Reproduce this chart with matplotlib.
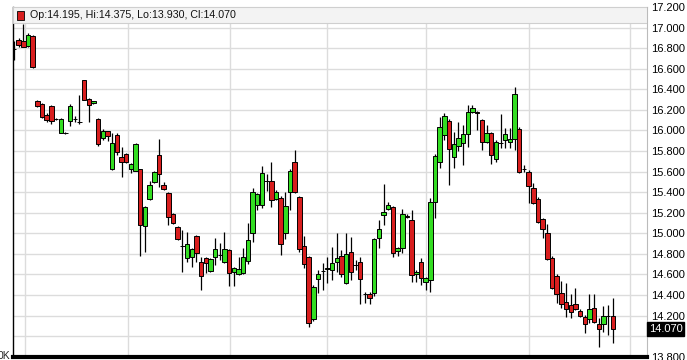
import matplotlib
matplotlib.use("Agg")
import matplotlib.pyplot as plt
from matplotlib.patches import Rectangle

plt.rcParams['font.family'] = ['Liberation Sans', 'DejaVu Sans']

opens = [16.795, 16.882, 16.872, 16.818, 16.915, 16.283, 16.257, 16.147, 16.234, 16.110,
         15.978, 15.974, 16.094, 16.110, 16.080, 16.487, 16.305, 16.264, 16.111, 15.926,
         15.991, 15.622, 15.955, 15.739, 15.768, 15.622, 15.608, 15.622, 15.071, 15.330,
         15.495, 15.761, 15.466, 15.389, 15.184, 15.058, 14.878, 14.757, 14.772, 14.973,
         14.724, 14.757, 14.633, 14.766, 14.787, 14.718, 14.837, 14.623, 14.604, 14.611,
         14.730, 15.000, 15.275, 15.275, 15.510, 15.505, 15.330, 15.346, 15.000, 15.404,
         15.696, 15.350, 14.876, 14.766, 14.163, 14.552, 14.634, 14.650, 14.643, 14.718,
         14.779, 14.513, 14.821, 14.690, 14.718, 14.410, 14.406, 14.422, 14.951, 15.178,
         15.233, 15.252, 14.830, 14.854, 15.165, 15.129, 14.601, 14.718, 14.529, 14.546,
         15.301, 15.690, 15.955, 16.094, 15.744, 15.848, 15.875, 15.962, 16.176, 16.182,
         16.101, 15.884, 15.972, 15.722, 15.873, 15.907, 15.890, 15.917, 16.014, 15.623,
         15.599, 15.443, 15.333, 15.136, 15.000, 14.762, 14.587, 14.416, 14.329, 14.303,
         14.309, 14.247, 14.189, 14.163, 14.270, 14.115, 14.118, 14.197, 14.195]
highs = [16.866, 16.899, 17.035, 16.947, 16.928, 16.296, 16.267, 16.169, 16.247, 16.121,
         16.121, 15.980, 16.257, 16.137, 16.347, 16.490, 16.315, 16.290, 16.121, 16.014,
         15.999, 15.978, 15.978, 15.836, 15.780, 15.683, 15.878, 15.625, 15.265, 15.508,
         15.605, 15.914, 15.501, 15.401, 15.197, 15.071, 15.032, 15.015, 14.857, 14.983,
         14.772, 14.772, 14.755, 14.951, 14.905, 15.009, 14.847, 14.672, 14.772, 14.854,
         15.097, 15.437, 15.392, 15.654, 15.573, 15.690, 15.421, 15.362, 15.404, 15.625,
         15.810, 15.362, 14.973, 14.779, 14.497, 14.643, 14.711, 14.772, 14.863, 15.000,
         14.837, 15.000, 14.967, 14.740, 14.772, 14.429, 14.429, 14.954, 15.129, 15.476,
         15.304, 15.265, 14.866, 15.233, 15.187, 15.226, 14.643, 14.762, 14.575, 15.346,
         15.771, 16.133, 16.166, 16.111, 15.988, 16.079, 16.053, 16.247, 16.247, 16.189,
         16.111, 16.053, 15.985, 15.907, 16.157, 16.021, 16.024, 16.425, 16.033, 15.664,
         15.615, 15.492, 15.353, 15.148, 15.087, 14.779, 14.604, 14.536, 14.513, 14.406,
         14.465, 14.264, 14.205, 14.406, 14.406, 14.176, 14.296, 14.302, 14.375]
lows = [16.682, 16.811, 16.808, 16.811, 16.607, 16.228, 16.121, 16.082, 16.065, 16.101,
        15.975, 15.965, 16.046, 16.085, 16.065, 16.296, 16.079, 16.257, 15.851, 15.904,
        15.894, 15.615, 15.761, 15.550, 15.683, 15.583, 15.605, 14.782, 14.821, 15.323,
        15.489, 15.453, 15.421, 15.080, 15.090, 14.935, 14.626, 14.724, 14.675, 14.724,
        14.448, 14.611, 14.623, 14.691, 14.740, 14.711, 14.487, 14.487, 14.594, 14.604,
        14.701, 14.918, 15.226, 15.243, 15.414, 15.258, 15.323, 14.789, 14.944, 15.226,
        15.392, 14.818, 14.659, 14.092, 14.150, 14.416, 14.448, 14.513, 14.546, 14.626,
        14.578, 14.507, 14.546, 14.643, 14.309, 14.322, 14.309, 14.390, 14.860, 15.080,
        15.226, 14.772, 14.779, 14.805, 15.148, 14.529, 14.529, 14.497, 14.448, 14.432,
        15.151, 15.632, 15.907, 15.469, 15.632, 15.803, 15.664, 15.842, 16.169, 16.004,
        15.810, 15.878, 15.671, 15.696, 15.826, 15.826, 15.826, 15.810, 15.586, 15.596,
        15.291, 15.285, 15.100, 14.957, 14.740, 14.458, 14.319, 14.270, 14.189, 14.179,
        14.254, 14.186, 14.027, 14.125, 14.128, 13.897, 14.043, 14.011, 13.930]
closes = [16.790, 16.828, 16.808, 16.931, 16.614, 16.234, 16.127, 16.098, 16.094, 16.108,
          16.111, 15.972, 16.234, 16.115, 16.078, 16.299, 16.244, 16.283, 15.871, 15.991,
          15.943, 15.875, 15.793, 15.690, 15.690, 15.671, 15.868, 15.080, 15.258, 15.466,
          15.593, 15.573, 15.427, 15.155, 15.097, 14.941, 14.875, 14.893, 14.844, 14.811,
          14.589, 14.708, 14.747, 14.844, 14.790, 14.844, 14.611, 14.659, 14.650, 14.772,
          14.935, 15.398, 15.382, 15.583, 15.513, 15.323, 15.404, 14.896, 15.268, 15.608,
          15.398, 14.844, 14.698, 14.124, 14.480, 14.601, 14.637, 14.665, 14.714, 14.757,
          14.601, 14.798, 14.626, 14.692, 14.552, 14.408, 14.374, 14.941, 15.038, 15.210,
          15.275, 14.811, 14.854, 15.184, 15.161, 14.594, 14.626, 14.568, 14.562, 15.307,
          15.754, 16.036, 16.143, 15.816, 15.868, 15.923, 15.962, 16.176, 16.215, 16.166,
          15.890, 15.972, 15.761, 15.890, 15.876, 15.962, 15.917, 16.351, 15.599, 15.625,
          15.460, 15.291, 15.107, 15.038, 14.747, 14.465, 14.406, 14.309, 14.264, 14.237,
          14.264, 14.199, 14.115, 14.261, 14.134, 14.069, 14.196, 14.199, 14.070]

month_lines = [2.35, 24.3, 46.1, 67.0, 88.1, 110.1, 131.6]
price_ticks = [13.8 + 0.2 * i for i in range(18)]
legend_text = "Op:14.195, Hi:14.375, Lo:13.930, Cl:14.070"
last_label = "14.070"

UP = '#33dd22'
DOWN = '#d81e1e'

W, H = 687, 360
fig = plt.figure(figsize=(W / 100, H / 100), dpi=100)
fig.patch.set_facecolor('white')
ax = fig.add_axes([13 / W, 1 - 357 / H, (647 - 13) / W, (357 - 7) / H])
ax.set_facecolor('white')

n = len(opens)
xs = list(range(n))
ax.set_xlim(-0.2, 135.3)
ax.set_ylim(13.797, 17.2)

for p in price_ticks:
    ax.axhline(p, color='#dcdcdc', lw=1.0, zorder=0)
for m in month_lines:
    ax.axvline(m, color='#dcdcdc', lw=1.0, zorder=0)

ax.vlines(xs, lows, highs, color='black', lw=0.9, zorder=2)
for i in xs:
    o, c = opens[i], closes[i]
    col = UP if c >= o else DOWN
    ax.bar(i, abs(c - o), bottom=min(o, c), width=0.95, color=col,
           edgecolor='black', linewidth=0.7, zorder=3)

# tick labels; the one hidden behind the last-price box is left blank
tick_labels = []
for p in price_ticks:
    lab = f"{p:.3f}"
    tick_labels.append("" if abs(p - closes[-1]) < 0.1 else lab)

ax.yaxis.tick_right()
ax.set_yticks(price_ticks)
ax.set_yticklabels(tick_labels, fontsize=8)
ax.tick_params(axis='y', length=0, pad=3)
ax.set_xticks([])

for s in ['top', 'right']:
    ax.spines[s].set_color('#bbbbbb')
    ax.spines[s].set_linewidth(0.8)
ax.spines['left'].set_color('black')
ax.spines['left'].set_linewidth(1.0)
ax.spines['bottom'].set_color('black')
ax.spines['bottom'].set_linewidth(3.0)

# legend strip
ax.add_patch(Rectangle((0, 1 - 16 / 350), 1, 16 / 350, transform=ax.transAxes,
                       facecolor='#f3f3f3', edgecolor='#cfcfcf', lw=0.8, zorder=4))
ax.add_patch(Rectangle((4 / 634, 1 - 12.5 / 350), 7 / 634, 8 / 350, transform=ax.transAxes,
                       facecolor=DOWN, edgecolor='black', lw=0.6, zorder=5))
ax.text(17 / 634, 1 - 8.5 / 350, legend_text, transform=ax.transAxes,
        fontsize=7.7, va='center', ha='left', color='#111111', zorder=6)

# last price label
ax.text(1.003, closes[-1], last_label, transform=ax.get_yaxis_transform(),
        fontsize=8, color='white', va='center', ha='left', zorder=7,
        bbox=dict(boxstyle='square,pad=0.15', facecolor='black', edgecolor='black'),
        clip_on=False)

fig.text(-0.004, 1 - 356 / H, "0K", fontsize=7.5, va='center', ha='left', color='#222222')

fig.savefig('out.png', dpi=100, facecolor='white')
